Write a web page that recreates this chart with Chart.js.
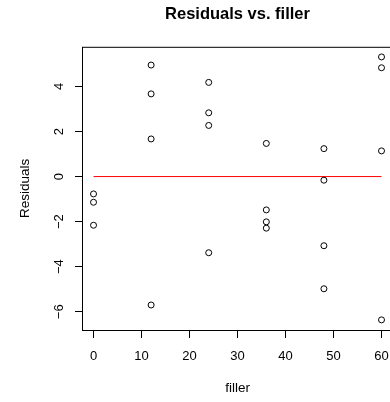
<!DOCTYPE html>
<html>
<head>
  <meta charset="utf-8">
  <title>Residuals vs. filler</title>
  <script src="https://cdn.jsdelivr.net/npm/chart.js@4.4.0/dist/chart.umd.min.js"></script>
  <style>
    body { margin: 0; overflow: hidden; background: #fff; }
    #wrap { width: 400px; height: 402px; }
  </style>
</head>
<body>
  <div id="wrap"><canvas id="myChart"></canvas></div>

  <script>
    // residuals, grouped by filler level
    var fillerX = [0, 0, 0, 12, 12, 12, 12, 24, 24, 24, 24, 36, 36, 36, 36, 48, 48, 48, 48, 60, 60, 60, 60];
    var residY = [-0.77, -1.14, -2.16, 4.95, 3.67, 1.67, -5.70, 4.18, 2.83, 2.27, -3.38,
                  1.47, -1.48, -2.01, -2.29, 1.24, -0.16, -3.07, -4.98, 5.31, 4.83, 1.14, -6.36];
    var zeroLineX = [0, 60];
    var zeroLineY = [0, 0];
    var xTicks = [0, 10, 20, 30, 40, 50, 60];
    var yTicks = [-6, -4, -2, 0, 2, 4];

    var FONT = "'Liberation Sans', Arial, sans-serif";

    // box around the plot region + rotated y labels (R style)
    const rStyle = {
      id: 'rStyle',
      afterDraw(chart) {
        const ctx = chart.ctx;
        const a = chart.chartArea;
        const ys = chart.scales.y;
        ctx.save();
        ctx.strokeStyle = '#000';
        ctx.lineWidth = 1;
        ctx.strokeRect(a.left + 0.5, a.top + 0.5, a.right - a.left, a.bottom - a.top);
        ctx.fillStyle = '#000';
        ctx.font = '13px ' + FONT;
        ctx.textAlign = 'center';
        ctx.textBaseline = 'middle';
        yTicks.forEach(v => {
          ctx.save();
          ctx.translate(59, ys.getPixelForValue(v));
          ctx.rotate(-Math.PI / 2);
          ctx.fillText(String(v).replace('-', '\u2212'), 0, 0);
          ctx.restore();
        });
        ctx.restore();
      }
    };

    function createChart() {
      const ctx = document.getElementById('myChart').getContext('2d');
      const myChart = new Chart(ctx, {
        type: 'scatter',
        data: {
          datasets: [{
            data: fillerX.map((x, i) => ({ x: x, y: residY[i] })),
            pointRadius: 3,
            pointHoverRadius: 3,
            borderColor: '#000',
            backgroundColor: 'rgba(0,0,0,0)',
            borderWidth: 1
          }, {
            type: 'line',
            data: zeroLineX.map((x, i) => ({ x: x, y: zeroLineY[i] })),
            borderColor: '#ff0000',
            borderWidth: 1,
            pointRadius: 0,
            fill: false
          }]
        },
        options: {
          responsive: true,
          maintainAspectRatio: false,
          animation: false,
          layout: { padding: { left: 0, right: 6.5, top: 0, bottom: 0 } },
          plugins: {
            legend: { display: false },
            tooltip: { enabled: false },
            title: {
              display: true,
              fullSize: false,
              text: 'Residuals vs. filler',
              color: '#000',
              font: { family: FONT, size: 16.5, weight: 'bold' },
              padding: { top: 5, bottom: 22 }
            }
          },
          scales: {
            x: {
              type: 'linear',
              min: -2.4,
              max: 62.4,
              afterBuildTicks: s => { s.ticks = xTicks.map(v => ({ value: v })); },
              afterFit: s => { s.height = 72; },
              ticks: {
                color: '#000',
                font: { family: FONT, size: 13 },
                padding: 11,
                maxRotation: 0
              },
              grid: { drawOnChartArea: false, drawTicks: true, tickLength: 8, color: '#000', tickColor: '#000' },
              border: { display: false },
              title: {
                display: true,
                text: 'filler',
                color: '#000',
                font: { family: FONT, size: 13.5 },
                padding: { top: 0, bottom: 6 }
              }
            },
            y: {
              type: 'linear',
              min: -6.81,
              max: 5.76,
              afterBuildTicks: s => { s.ticks = yTicks.map(v => ({ value: v })); },
              afterFit: s => { s.width = 82; },
              ticks: { display: false },
              grid: { drawOnChartArea: false, drawTicks: true, tickLength: 7, color: '#000', tickColor: '#000' },
              border: { display: false },
              title: {
                display: true,
                text: 'Residuals',
                color: '#000',
                font: { family: FONT, size: 13.5 },
                padding: { top: 17, bottom: 0 }
              }
            }
          }
        },
        plugins: [rStyle]
      });
    }

    createChart();
  </script>
</body>
</html>
